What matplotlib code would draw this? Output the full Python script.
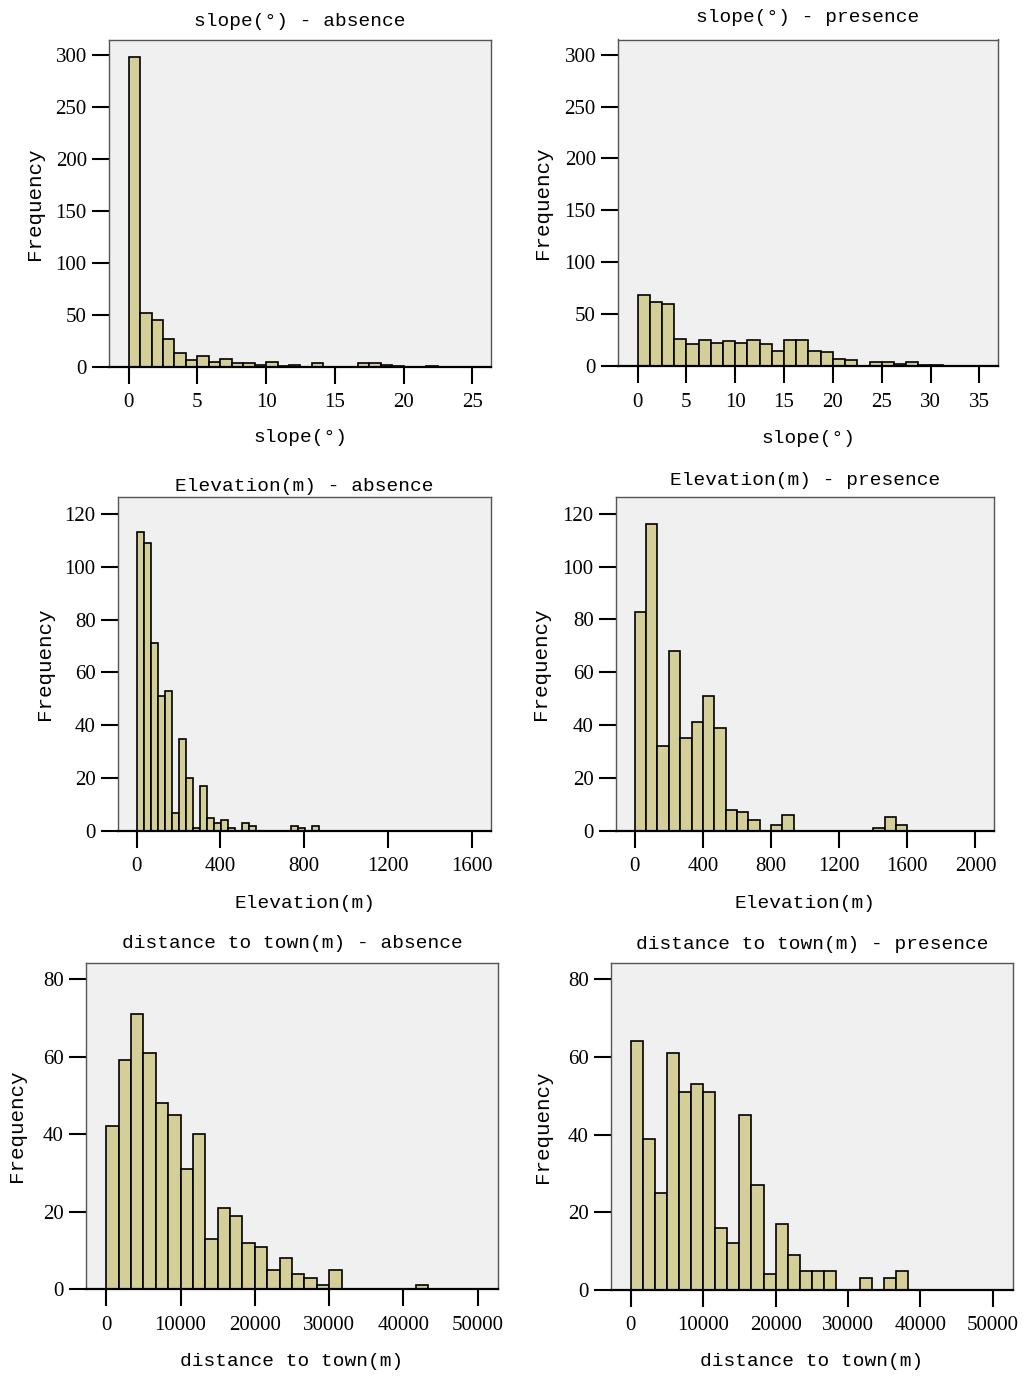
import numpy as np
import matplotlib
matplotlib.use("Agg")
import matplotlib.pyplot as plt

# bin counts (bins start at 0)
slope_absence = [298, 52, 45, 27, 13, 7, 11, 5, 8, 4, 4, 2, 5, 1, 2, 0, 4, 0, 0, 0,
                 4, 4, 2, 1, 0, 0, 1]
slope_presence = [69, 62, 60, 26, 21, 25, 22, 24, 22, 25, 21, 15, 25, 25, 15, 14, 7, 6,
                  0, 4, 4, 2, 4, 1, 1]
elev_absence = [113, 109, 71, 51, 53, 7, 35, 20, 1, 17, 5, 3, 4, 1, 0, 3, 2, 0, 0, 0,
                0, 0, 2, 1, 0, 2]
elev_presence = [83, 116, 32, 68, 35, 41, 51, 39, 8, 7, 4, 0, 2, 6, 0, 0, 0, 0, 0, 0,
                 0, 1, 5, 2]
town_absence = [42, 59, 71, 61, 48, 45, 31, 40, 13, 21, 19, 12, 11, 5, 8, 4, 3, 1, 5,
                0, 0, 0, 0, 0, 0, 1]
town_presence = [64, 39, 25, 61, 51, 53, 51, 16, 12, 45, 27, 4, 17, 9, 5, 5, 5, 0, 0,
                 3, 0, 3, 5]

# bin widths
slope_abs_bin = 5 / 6
slope_pres_bin = 1.25
elev_abs_bin = 33.4
elev_pres_bin = 200 / 3
town_bin = 5000 / 3

# ticks
slope_abs_ticks = [0, 5, 10, 15, 20, 25]
slope_pres_ticks = [0, 5, 10, 15, 20, 25, 30, 35]
elev_abs_ticks = [0, 400, 800, 1200, 1600]
elev_pres_ticks = [0, 400, 800, 1200, 1600, 2000]
town_ticks = [0, 10000, 20000, 30000, 40000, 50000]
slope_yticks = [0, 50, 100, 150, 200, 250, 300]
elev_yticks = [0, 20, 40, 60, 80, 100, 120]
town_yticks = [0, 20, 40, 60, 80]

slope_label = "slope(°)"
elev_label = "Elevation(m)"
town_label = "distance to town(m)"

BAR_COLOR = "#d4cf99"
BG_COLOR = "#f0f0f0"
MONO = ["Liberation Mono", "DejaVu Sans Mono"]
SERIF = ["Liberation Serif", "DejaVu Serif"]

W, H = 1024, 1378
fig = plt.figure(figsize=(W / 100, H / 100), dpi=100)


def px_rect(l, t, r, b):
    return [l / W, 1 - b / H, (r - l) / W, (b - t) / H]


panels = [
    dict(counts=slope_absence, width=slope_abs_bin, box=(109, 39.5, 491, 367),
         xlim=(-1.43, 26.36), ylim=(0, 315), xticks=slope_abs_ticks,
         yticks=slope_yticks, title=slope_label + " - absence", xlabel=slope_label,
         tpad=9.4, ylab_x=35, xlab_y=438),
    dict(counts=slope_presence, width=slope_pres_bin, box=(618, 39.5, 998, 366.3),
         xlim=(-2.0, 36.9), ylim=(0, 314.5), xticks=slope_pres_ticks,
         yticks=slope_yticks, title=slope_label + " - presence", xlabel=slope_label,
         tpad=12.6, ylab_x=543, xlab_y=438),
    dict(counts=elev_absence, width=elev_abs_bin, box=(118, 497, 491, 831),
         xlim=(-89, 1692), ylim=(0, 126.4), xticks=elev_abs_ticks,
         yticks=elev_yticks, title=elev_label + " - absence", xlabel=elev_label,
         tpad=4.5, ylab_x=44, xlab_y=903),
    dict(counts=elev_presence, width=elev_pres_bin, box=(616, 497, 994, 830.7),
         xlim=(-110, 2109), ylim=(0, 126.4), xticks=elev_pres_ticks,
         yticks=elev_yticks, title=elev_label + " - presence", xlabel=elev_label,
         tpad=8.4, ylab_x=541, xlab_y=903),
    dict(counts=town_absence, width=town_bin, box=(86, 963, 498, 1289.3),
         xlim=(-2733, 52730), ylim=(0, 84.1), xticks=town_ticks,
         yticks=town_yticks, title=town_label + " - absence", xlabel=town_label,
         tpad=10.8, ylab_x=17, xlab_y=1361),
    dict(counts=town_presence, width=town_bin, box=(611, 963, 1013, 1290),
         xlim=(-2724, 52770), ylim=(0, 84.2), xticks=town_ticks,
         yticks=town_yticks, title=town_label + " - presence", xlabel=town_label,
         tpad=10.0, ylab_x=543, xlab_y=1361),
]

for p in panels:
    l, t, r, b = p["box"]
    ax = fig.add_axes(px_rect(l, t, r, b))
    ax.set_facecolor(BG_COLOR)

    counts = np.asarray(p["counts"])
    left_edges = np.arange(len(counts)) * p["width"]
    ax.bar(left_edges, counts, width=p["width"], align="edge",
           color=BAR_COLOR, edgecolor="black", linewidth=1.2, zorder=2)

    ax.set_xlim(*p["xlim"])
    ax.set_ylim(*p["ylim"])
    ax.set_xticks(p["xticks"])
    ax.set_xticklabels([str(v) for v in p["xticks"]], family=SERIF, fontsize=15)
    ax.set_yticks(p["yticks"])
    ax.set_yticklabels([str(v) for v in p["yticks"]], family=SERIF, fontsize=15)
    ax.tick_params(direction="out", length=12, width=1.5, color="black", pad=4)
    ax.tick_params(axis="x", pad=7)

    for side in ("left", "top", "right"):
        ax.spines[side].set_color("#555555")
        ax.spines[side].set_linewidth(1.0)
    ax.spines["bottom"].set_color("black")
    ax.spines["bottom"].set_linewidth(1.6)

    ax.set_title(p["title"], family=MONO, fontsize=14, pad=p["tpad"])
    ax.set_xlabel(p["xlabel"], family=MONO, fontsize=14)
    ax.set_ylabel("Frequency", family=MONO, fontsize=15)
    ax.yaxis.set_label_coords((p["ylab_x"] - l) / (r - l), 0.5)
    ax.xaxis.set_label_coords(0.5, (b - p["xlab_y"]) / (b - t))
    ax.xaxis.label.set_va("center")
    ax.yaxis.label.set_va("center")

fig.savefig("out.png", dpi=100, facecolor="white")
